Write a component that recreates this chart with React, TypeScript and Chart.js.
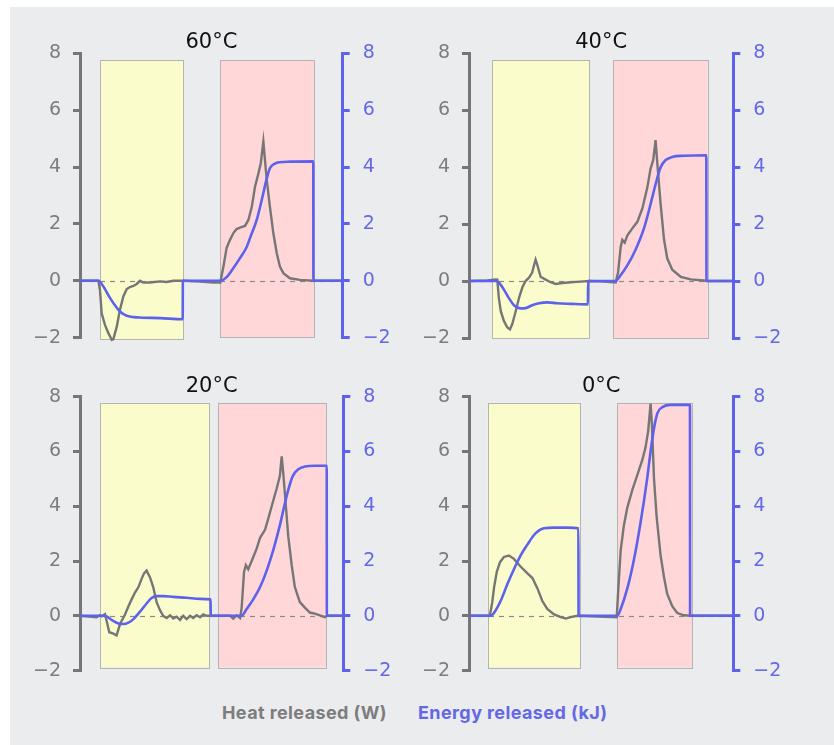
import React, { useEffect, useRef } from "react";
import { Chart, registerables } from "chart.js";

Chart.register(...registerables);

// ---------- data ----------
const panelTitles = ["60°C", "40°C", "20°C", "0°C"];
const yTickValues = [-2, 0, 2, 4, 6, 8];
const legendLabels = ["Heat released (W)", "Energy released (kJ)"];

// [time (% of axis span), value]
const heat60: [number, number][] = [
  [0, 0], [7.0, 0], [7.6, -0.32], [8.25, -1.14], [9.5, -1.55], [10.8, -1.84], [12.1, -2.08], [12.7, -2.05],
  [14.0, -1.61], [15.2, -1.02], [16.5, -0.55], [17.8, -0.29], [19.0, -0.22], [20.3, -0.18], [21.6, -0.11],
  [22.8, 0], [24.1, -0.06], [26.6, -0.06], [30.5, -0.02], [33.0, -0.04], [35.5, 0], [39.3, 0], [45.7, -0.03],
  [50.8, -0.06], [53.4, -0.06], [54.6, 0.5], [55.8, 1.15], [57.1, 1.44], [58.4, 1.68], [59.6, 1.82], [60.9, 1.87],
  [62.8, 1.93], [64.1, 2.14], [65.4, 2.6], [66.6, 3.3], [67.9, 3.77], [68.8, 4.12], [69.8, 4.9], [70.4, 4.26],
  [71.1, 3.54], [72.3, 2.6], [73.6, 1.67], [74.9, 0.97], [76.1, 0.5], [77.4, 0.27], [79.9, 0.09], [83.8, 0.035],
  [88.8, 0], [100, 0],
];
const energy60: [number, number][] = [
  [0, 0], [7.0, 0], [8.9, -0.2], [11.4, -0.6], [14.0, -0.95], [15.2, -1.08], [17.8, -1.23], [22.8, -1.29],
  [30.5, -1.31], [39.1, -1.35], [39.15, 0], [53.4, 0], [55.8, 0.13], [58.4, 0.45], [60.9, 0.8], [63.5, 1.2],
  [64.7, 1.5], [67.3, 2.15], [69.2, 2.85], [71.1, 3.6], [72.3, 3.96], [74.2, 4.12], [76.1, 4.17], [79.9, 4.19],
  [88.8, 4.2], [88.85, 0], [100, 0],
];
const heat40: [number, number][] = [
  [0, 0], [7.0, 0.02], [10.1, 0.06], [10.7, 0.05], [11.3, -0.6], [12.0, -1.05], [13.2, -1.4], [14.5, -1.63],
  [15.5, -1.7], [16.4, -1.5], [17.7, -1.05], [18.9, -0.6], [20.2, -0.22], [21.4, 0], [22.7, 0.12], [23.9, 0.3],
  [24.6, 0.55], [25.2, 0.75], [25.9, 0.55], [27.1, 0.15], [29.0, 0.05], [30.9, -0.04], [32.8, -0.1], [35.3, -0.07],
  [38.5, -0.04], [42.2, -0.02], [45.4, 0], [49.8, -0.01], [55.5, -0.05], [56.4, 0.3], [57.4, 1.2], [58.0, 1.45],
  [58.9, 1.35], [59.9, 1.6], [61.8, 1.85], [63.7, 2.08], [65.6, 2.55], [67.5, 3.3], [68.7, 3.95], [69.7, 4.25],
  [70.6, 4.95], [71.2, 4.2], [72.5, 2.7], [73.8, 1.45], [75.0, 0.8], [76.9, 0.4], [80.1, 0.15], [83.9, 0.06],
  [88.9, 0.02], [90.2, 0], [100, 0],
];
const energy40: [number, number][] = [
  [0, 0], [10.1, 0], [11.3, -0.05], [13.2, -0.3], [15.1, -0.6], [17.0, -0.85], [19.5, -0.96], [21.4, -0.95],
  [23.9, -0.85], [26.5, -0.78], [29.6, -0.75], [33.4, -0.78], [38.5, -0.8], [45.0, -0.82], [45.05, 0], [55.5, 0],
  [56.7, 0.12], [59.9, 0.55], [63.1, 1.12], [66.2, 1.85], [68.7, 2.7], [70.6, 3.4], [72.5, 4.0], [74.4, 4.25],
  [76.9, 4.36], [81.3, 4.4], [89.8, 4.42], [89.85, 0], [100, 0],
];
const heat20: [number, number][] = [
  [0, 0], [6.3, -0.05], [7.6, 0.02], [8.2, -0.02], [9.5, 0.06], [10.4, -0.3], [11.1, -0.6], [12.7, -0.65],
  [13.9, -0.72], [15.2, -0.3], [17.1, 0.05], [18.4, 0.35], [19.6, 0.6], [20.9, 0.85], [22.2, 1.05], [23.4, 1.35],
  [24.3, 1.55], [25.3, 1.65], [26.6, 1.4], [27.8, 1.05], [29.1, 0.5], [30.4, 0.2], [31.6, 0], [32.9, -0.08],
  [34.2, 0.02], [35.4, -0.1], [36.7, -0.03], [38.0, -0.15], [39.2, 0], [40.5, -0.12], [41.8, 0], [43.0, -0.08],
  [44.3, 0.02], [45.6, -0.05], [46.8, 0.05], [48.1, 0], [49.1, 0], [57.0, 0], [58.2, -0.1], [59.5, 0.02],
  [60.8, -0.08], [61.4, 0.3], [62.3, 1.6], [63.0, 1.85], [63.9, 1.7], [65.2, 2.0], [67.1, 2.45], [68.4, 2.85],
  [70.3, 3.15], [71.5, 3.55], [72.8, 4.0], [74.7, 4.65], [75.9, 5.1], [76.6, 5.82], [77.2, 5.2], [78.2, 4.0],
  [79.1, 2.9], [80.4, 1.85], [81.6, 1.05], [83.5, 0.5], [85.4, 0.3], [87.3, 0.12], [89.2, 0.08], [91.1, 0.02],
  [93.0, -0.05], [93.7, 0], [100, 0],
];
const energy20: [number, number][] = [
  [0, 0], [8.9, 0], [10.1, -0.02], [12.0, -0.15], [14.6, -0.28], [16.5, -0.3], [18.4, -0.25], [20.3, -0.12],
  [22.8, 0.15], [25.3, 0.45], [27.2, 0.65], [29.1, 0.72], [31.6, 0.72], [35.4, 0.69], [40.5, 0.66], [45.6, 0.62],
  [49.6, 0.6], [49.65, 0], [61.4, 0], [63.3, 0.25], [65.8, 0.6], [68.4, 1.05], [70.9, 1.65], [73.4, 2.4],
  [75.9, 3.3], [77.8, 4.1], [79.1, 4.6], [80.8, 5.1], [82.9, 5.35], [85.4, 5.45], [89.2, 5.48], [93.7, 5.48],
  [93.75, 0], [100, 0],
];
const heat0: [number, number][] = [
  [0, 0], [7.9, 0], [8.8, 0.5], [9.5, 1.05], [10.5, 1.6], [11.7, 1.95], [13.2, 2.15], [15.1, 2.2], [17.0, 2.08],
  [19.5, 1.8], [22.1, 1.55], [24.0, 1.38], [25.9, 1.0], [27.7, 0.55], [29.6, 0.25], [32.2, 0.05], [34.7, -0.05],
  [36.6, -0.1], [38.5, -0.05], [41.0, 0], [55.9, -0.05], [56.5, 1.0], [57.4, 2.4], [58.6, 3.3], [59.9, 3.95],
  [61.8, 4.6], [63.7, 5.15], [65.6, 5.7], [66.8, 6.15], [67.8, 6.75], [68.7, 7.75], [69.2, 7.0], [70.0, 5.0],
  [71.0, 3.6], [72.5, 2.2], [73.8, 1.4], [75.0, 0.8], [76.9, 0.35], [78.8, 0.1], [81.3, 0.02], [83.9, 0], [100, 0],
];
const energy0: [number, number][] = [
  [0, 0], [7.6, 0], [8.8, 0.03], [10.1, 0.2], [12.0, 0.55], [14.5, 1.15], [17.0, 1.7], [19.5, 2.2], [22.1, 2.6],
  [24.6, 2.95], [26.5, 3.12], [28.4, 3.2], [32.2, 3.22], [37.2, 3.22], [41.4, 3.2], [41.45, 0], [56.1, 0],
  [57.4, 0.25], [59.9, 1.0], [62.4, 2.05], [64.9, 3.4], [67.4, 5.0], [68.7, 6.0], [70.0, 6.85], [71.3, 7.4],
  [73.2, 7.62], [76.3, 7.7], [83.6, 7.7], [83.65, 0], [100, 0],
];

const heatSeries = [heat60, heat40, heat20, heat0];
const energySeries = [energy60, energy40, energy20, energy0];

// shaded phases (x in % of axis span, y in axis units)
const chargeStart = [7.6, 8.8, 7.6, 7.1];
const chargeEnd = [39.3, 45.5, 49.1, 41.9];
const dischargeStart = [53.4, 54.4, 52.5, 56.1];
const dischargeEnd = [89.2, 90.2, 93.4, 84.5];
const bandTop = [7.75, 7.75, 7.78, 7.78];
const chargeBottom = [-2.07, -2.0, -1.88, -1.88];
const dischargeBottom = [-2.0, -2.0, -1.88, -1.88];

// ---------- styles ----------
const GREY = "#767676";
const GREY_TEXT = "#7d7d7d";
const BLUE = "#5d61ec";
const BLUE_TEXT = "#6468e6";
const YELLOW = "#fafdcb";
const PINK = "#ffd7d9";
const BAND_BORDER = "#b4b4b4";
const BG = "#ebecee";
const AXIS_FONT = "'DejaVu Sans', 'Liberation Sans', sans-serif";

const layouts = [
  { left: 10, top: 7, w: 404, h: 358, leftW: 70, rightW: 71.3, padTop: 25.3, padBottom: 27.3 },
  { left: 414, top: 7, w: 420, h: 358, leftW: 55, rightW: 100.7, padTop: 25.3, padBottom: 27 },
  { left: 10, top: 365, w: 404, h: 330, leftW: 70, rightW: 70.7, padTop: 10.7, padBottom: 14.3 },
  { left: 414, top: 365, w: 420, h: 330, leftW: 55, rightW: 100.7, padTop: 10.7, padBottom: 14.3 },
];

const fmt = (v: number | string) => {
  const n = Number(v);
  return n < 0 ? "\u2212" + Math.abs(n) : String(n);
};

function Panel({ index }: { index: number }) {
  const ref = useRef<HTMLCanvasElement | null>(null);
  const L = layouts[index];

  useEffect(() => {
    if (!ref.current) return;
    const bandsPlugin = {
      id: "bands",
      beforeDatasetsDraw(chart: any) {
        const { ctx, chartArea } = chart;
        const x = chart.scales.x;
        const y = chart.scales.y;
        const rects = [
          [chargeStart[index], chargeEnd[index], chargeBottom[index], YELLOW],
          [dischargeStart[index], dischargeEnd[index], dischargeBottom[index], PINK],
        ] as [number, number, number, string][];
        ctx.save();
        for (const [x0, x1, yb, col] of rects) {
          const px0 = x.getPixelForValue(x0);
          const px1 = x.getPixelForValue(x1);
          const py0 = y.getPixelForValue(bandTop[index]);
          const py1 = y.getPixelForValue(yb);
          ctx.fillStyle = col;
          ctx.fillRect(px0, py0, px1 - px0, py1 - py0);
          ctx.strokeStyle = BAND_BORDER;
          ctx.lineWidth = 1;
          ctx.strokeRect(Math.round(px0) + 0.5, Math.round(py0) + 0.5, Math.round(px1 - px0), Math.round(py1 - py0));
        }
        const py = Math.round(y.getPixelForValue(0)) + 0.5;
        ctx.strokeStyle = "#8a8a8a";
        ctx.lineWidth = 1.2;
        ctx.setLineDash([5, 5]);
        ctx.beginPath();
        ctx.moveTo(chartArea.left, py);
        ctx.lineTo(chartArea.right, py);
        ctx.stroke();
        ctx.restore();
      },
    };

    const axisCommon = (color: string, textColor: string, pad: number, width: number) => ({
      min: -2,
      max: 8,
      afterFit: (s: any) => {
        s.width = width;
      },
      ticks: {
        stepSize: 2,
        padding: pad,
        color: textColor,
        font: { family: AXIS_FONT, size: 19 },
        callback: (v: any) => fmt(v),
      },
      afterBuildTicks: (s: any) => {
        s.ticks = yTickValues.map((v) => ({ value: v }));
      },
      grid: {
        display: true,
        drawOnChartArea: false,
        drawTicks: true,
        tickLength: 7,
        color,
        lineWidth: 3,
      },
      border: { display: true, color, width: 3 },
    });

    const chart = new Chart(ref.current, {
      type: "line",
      data: {
        datasets: [
          {
            label: legendLabels[1],
            data: energySeries[index].map(([x, y]) => ({ x, y })),
            yAxisID: "y1",
            borderColor: BLUE,
            borderWidth: 2.6,
            pointRadius: 0,
            cubicInterpolationMode: "monotone",
            clip: false,
          } as any,
          {
            label: legendLabels[0],
            data: heatSeries[index].map(([x, y]) => ({ x, y })),
            yAxisID: "y",
            borderColor: GREY,
            borderWidth: 2.4,
            pointRadius: 0,
            tension: 0,
            clip: false,
          } as any,
        ],
      },
      options: {
        animation: false,
        responsive: false,
        maintainAspectRatio: false,
        layout: { padding: { left: 0, right: 0, top: L.padTop, bottom: L.padBottom } },
        plugins: {
          legend: { display: false },
          tooltip: { enabled: false },
          title: {
            display: true,
            text: panelTitles[index],
            color: "#111111",
            fullSize: false,
            padding: 0,
            font: { family: AXIS_FONT, size: 21, weight: "normal", lineHeight: 1 },
          },
        },
        scales: {
          x: { type: "linear", min: 0, max: 100, display: false },
          y: { position: "left", ...axisCommon(GREY, GREY_TEXT, 12, L.leftW) } as any,
          y1: { position: "right", ...axisCommon(BLUE, BLUE_TEXT, 13, L.rightW) } as any,
        },
      } as any,
      plugins: [bandsPlugin],
    });
    return () => chart.destroy();
  }, [index]);

  return (
    <canvas
      ref={ref}
      width={L.w}
      height={L.h}
      style={{ position: "absolute", left: L.left, top: L.top, width: L.w, height: L.h }}
    />
  );
}

const legendStyle = {
  position: "absolute" as const,
  top: 703,
  fontFamily: "Inter, 'Noto Sans', sans-serif",
  fontWeight: 700,
  fontSize: 18,
  letterSpacing: "0.4px",
  lineHeight: "20px",
  whiteSpace: "nowrap" as const,
};

export default function App() {
  return (
    <div style={{ position: "absolute", left: 0, top: 0, width: 834, height: 745, background: "#ffffff", overflow: "hidden" }}>
      <div style={{ position: "absolute", left: 10, top: 7, width: 824, height: 738, background: BG }} />
      {[0, 1, 2, 3].map((i) => (
        <Panel key={i} index={i} />
      ))}
      <span style={{ ...legendStyle, left: 222, color: GREY_TEXT }}>{legendLabels[0]}</span>
      <span style={{ ...legendStyle, left: 418, color: BLUE_TEXT }}>{legendLabels[1]}</span>
    </div>
  );
}
